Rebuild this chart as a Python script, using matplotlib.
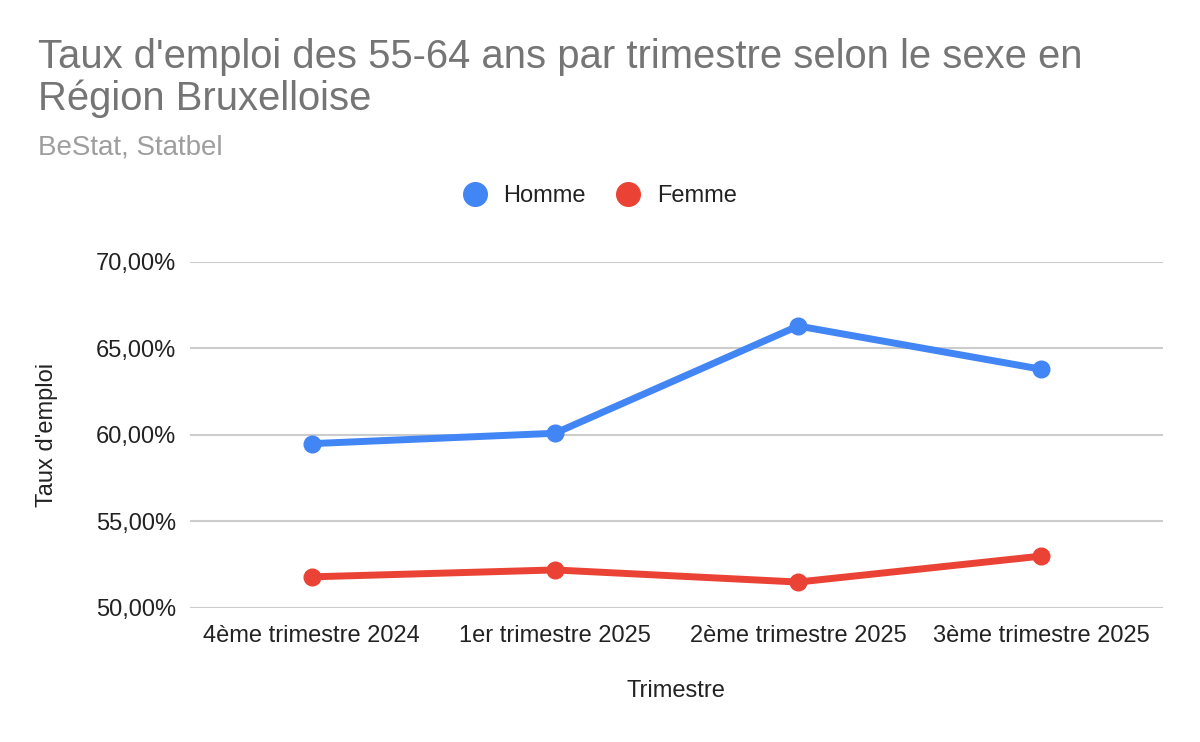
import numpy as np
import matplotlib.pyplot as plt
from matplotlib.lines import Line2D
from matplotlib.ticker import FuncFormatter

plt.rcParams['font.family'] = ['Liberation Sans', 'DejaVu Sans']

trimestres = ["4ème trimestre 2024", "1er trimestre 2025", "2ème trimestre 2025", "3ème trimestre 2025"]
homme = [59.5, 60.1, 66.3, 63.8]
femme = [51.8, 52.2, 51.5, 53.0]

bleu = "#4285F4"
rouge = "#EA4335"

fig = plt.figure(figsize=(12, 7.42), dpi=100)
ax = fig.add_axes([190/1200, 134/742, 973/1200, 346/742])

x = np.arange(len(trimestres))
ax.plot(x, homme, color=bleu, linewidth=5, marker="o", ms=12, solid_capstyle="round")
ax.plot(x, femme, color=rouge, linewidth=5, marker="o", ms=12, solid_capstyle="round")

ax.set_xlim(-0.5, len(trimestres) - 0.5)
ax.set_ylim(50, 70)
ax.set_yticks([50, 55, 60, 65, 70])
ax.yaxis.set_major_formatter(FuncFormatter(lambda v, p: f"{v:.2f}%".replace(".", ",")))
ax.set_xticks(x)
ax.set_xticklabels(trimestres)

ax.grid(axis="y", color="#cccccc", linewidth=1.5)
ax.set_axisbelow(True)
for s in ax.spines.values():
    s.set_visible(False)
ax.tick_params(length=0, labelsize=17, colors="#222222", pad=10)
ax.tick_params(axis="x", pad=12)

ax.set_ylabel("Taux d'emploi", fontsize=17, color="#222222")
ax.yaxis.set_label_coords((47 - 190)/973, 0.5)
ax.set_xlabel("Trimestre", fontsize=17, color="#222222")
ax.xaxis.set_label_coords((676 - 190)/973, -(691 - 608)/346)
ax.xaxis.label.set_va("center")
ax.yaxis.label.set_va("center")

fig.text(38/1200, 1 - 68/742, "Taux d'emploi des 55-64 ans par trimestre selon le sexe en",
         fontsize=28.8, color="#757575", va="baseline", ha="left")
fig.text(38/1200, 1 - 110/742, "Région Bruxelloise",
         fontsize=28.8, color="#757575", va="baseline", ha="left")
fig.text(38/1200, 1 - 154/742, "BeStat, Statbel", fontsize=20, color="#9e9e9e", va="baseline", ha="left")

handles = [Line2D([], [], color=bleu, marker="o", linestyle="", ms=17),
           Line2D([], [], color=rouge, marker="o", linestyle="", ms=17)]
fig.legend(handles, ["Homme", "Femme"], loc="center", bbox_to_anchor=(594/1200, 1 - 196/742),
           ncol=2, frameon=False, fontsize=17, handletextpad=0.2, columnspacing=0.8,
           labelcolor="#222222")

fig.savefig("out.png")
